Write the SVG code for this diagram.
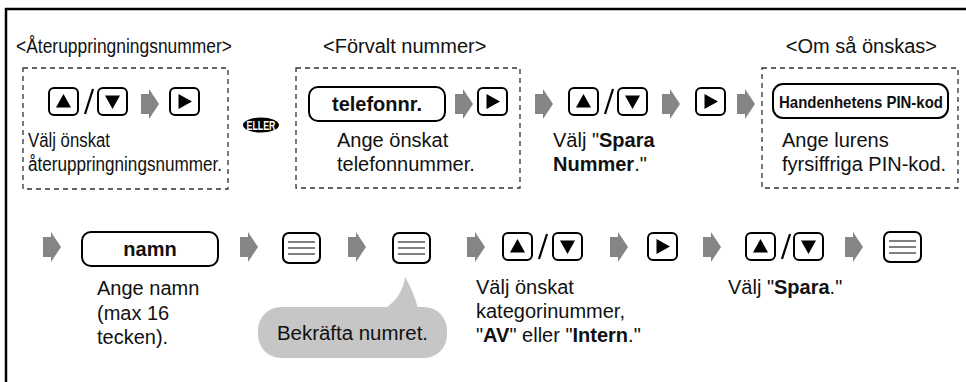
<svg xmlns="http://www.w3.org/2000/svg" width="966" height="382" viewBox="0 0 966 382">
<style>
text{font-family:"Liberation Sans",Arial,Helvetica,sans-serif;font-size:20px;fill:#111}
.b{font-weight:bold}
.box{fill:none;stroke:#333;stroke-width:1.3;stroke-dasharray:5 4}
.btn{fill:#fff;stroke:#000;stroke-width:2}
.key{fill:#fff;stroke:#000;stroke-width:2}
.ml{stroke:#555;stroke-width:1.6}
.arr{fill:#858585}
.sl{stroke:#000;stroke-width:2.2;fill:none}
</style>
<defs>
<g id="up"><rect x="0" y="0" width="29" height="27" rx="5" class="btn"/><path d="M14.5 6 L22 19.5 L7 19.5 Z"/></g>
<g id="down"><rect x="0" y="0" width="29" height="27" rx="5" class="btn"/><path d="M7 7.5 L22 7.5 L14.5 21 Z"/></g>
<g id="right"><rect x="0" y="0" width="29" height="27" rx="5" class="btn"/><path d="M8.5 6 L22 13.5 L8.5 21 Z"/></g>
<g id="menu"><rect x="0" y="0" width="37" height="30" rx="6" class="btn"/><path class="ml" d="M5 9 H32 M5 15 H32 M5 21 H32"/></g>
<path id="arrow" class="arr" d="M0 -10 H8 V-15 L18 0 L8 15 V10 H0 Z"/>
<path id="slash" class="sl" d="M3 26 L11 1"/>
</defs>
<path d="M6 382 V9 H966" fill="none" stroke="#000" stroke-width="2.5"/>

<g id="headers">
<text x="16" y="53" textLength="216" lengthAdjust="spacingAndGlyphs">&lt;Återuppringningsnummer&gt;</text>
<text x="323" y="53">&lt;Förvalt nummer&gt;</text>
<text x="937" y="53" text-anchor="end">&lt;Om så önskas&gt;</text>
</g>

<g id="group-redial">
<rect class="box" x="23" y="68" width="205" height="121"/>
<use href="#up" x="49" y="88"/>
<use href="#slash" x="82" y="88"/>
<use href="#down" x="98" y="88"/>
<use href="#right" x="170" y="88"/>
<text x="28" y="147" textLength="82" lengthAdjust="spacingAndGlyphs">Välj önskat</text>
<text x="28" y="171" textLength="194" lengthAdjust="spacingAndGlyphs">återuppringningsnummer.</text>
</g>

<g id="eller">
<ellipse cx="261" cy="125" rx="18" ry="7.5" fill="#000"/>
<text x="261" y="130" text-anchor="middle" class="b" style="font-size:13px;fill:#fff" textLength="29" lengthAdjust="spacingAndGlyphs">ELLER</text>
</g>

<g id="group-preset">
<rect class="box" x="296" y="68" width="224" height="120"/>
<rect class="key" x="309" y="87" width="136" height="34" rx="9"/>
<text x="377" y="111" text-anchor="middle" class="b">telefonnr.</text>
<use href="#right" x="478" y="88"/>
<text x="337" y="147">Ange önskat</text>
<text x="337" y="171">telefonnummer.</text>
</g>

<g id="step-save-number">
<use href="#up" x="569" y="88"/>
<use href="#slash" x="602" y="88"/>
<use href="#down" x="618" y="88"/>
<text x="553" y="147">Välj "<tspan class="b">Spara</tspan></text>
<text x="553" y="171"><tspan class="b">Nummer</tspan>."</text>
</g>

<g id="step-right1"><use href="#right" x="696" y="88"/></g>

<g id="group-pin">
<rect class="box" x="762" y="68" width="196" height="120"/>
<rect class="key" x="773" y="84" width="175" height="34" rx="10"/>
<text x="861" y="108" text-anchor="middle" class="b" style="font-size:17px" textLength="164" lengthAdjust="spacingAndGlyphs">Handenhetens PIN-kod</text>
<text x="782" y="147">Ange lurens</text>
<text x="782" y="171">fyrsiffriga PIN-kod.</text>
</g>

<g id="step-name">
<rect class="key" x="82" y="232" width="136" height="34" rx="9"/>
<text x="150" y="256" text-anchor="middle" class="b">namn</text>
<text x="97" y="295">Ange namn</text>
<text x="97" y="320">(max 16</text>
<text x="97" y="344">tecken).</text>
</g>

<g id="step-menu1"><use href="#menu" x="283" y="233"/></g>

<g id="step-menu2">
<use href="#menu" x="393" y="233"/>
<path d="M384 309 Q402 298 405 277 Q414 292 418 309 Z" fill="#c6c6c6"/>
<rect x="258" y="307" width="189" height="51" rx="23" fill="#c6c6c6"/>
<text x="277" y="340" textLength="151" lengthAdjust="spacingAndGlyphs">Bekräfta numret.</text>
</g>

<g id="step-category">
<use href="#up" x="503" y="233"/>
<use href="#slash" x="536" y="233"/>
<use href="#down" x="553" y="233"/>
<text x="476" y="294">Välj önskat</text>
<text x="476" y="318">kategorinummer,</text>
<text x="476" y="342">"<tspan class="b">AV</tspan>" eller "<tspan class="b">Intern</tspan>."</text>
</g>

<g id="step-right2"><use href="#right" x="648" y="233"/></g>

<g id="step-save">
<use href="#up" x="746" y="233"/>
<use href="#slash" x="779" y="233"/>
<use href="#down" x="794" y="233"/>
<text x="728" y="294">Välj "<tspan class="b">Spara</tspan>."</text>
</g>

<g id="step-menu3"><use href="#menu" x="884" y="232"/></g>

<g id="connectors">
<use href="#arrow" x="141" y="104"/>
<use href="#arrow" x="455" y="104"/>
<use href="#arrow" x="535" y="104"/>
<use href="#arrow" x="662" y="104"/>
<use href="#arrow" x="737" y="104"/>
<use href="#arrow" x="43" y="247"/>
<use href="#arrow" x="240" y="247"/>
<use href="#arrow" x="348" y="247"/>
<use href="#arrow" x="467" y="247"/>
<use href="#arrow" x="610" y="247"/>
<use href="#arrow" x="703" y="247"/>
<use href="#arrow" x="845" y="247"/>
</g>
</svg>
